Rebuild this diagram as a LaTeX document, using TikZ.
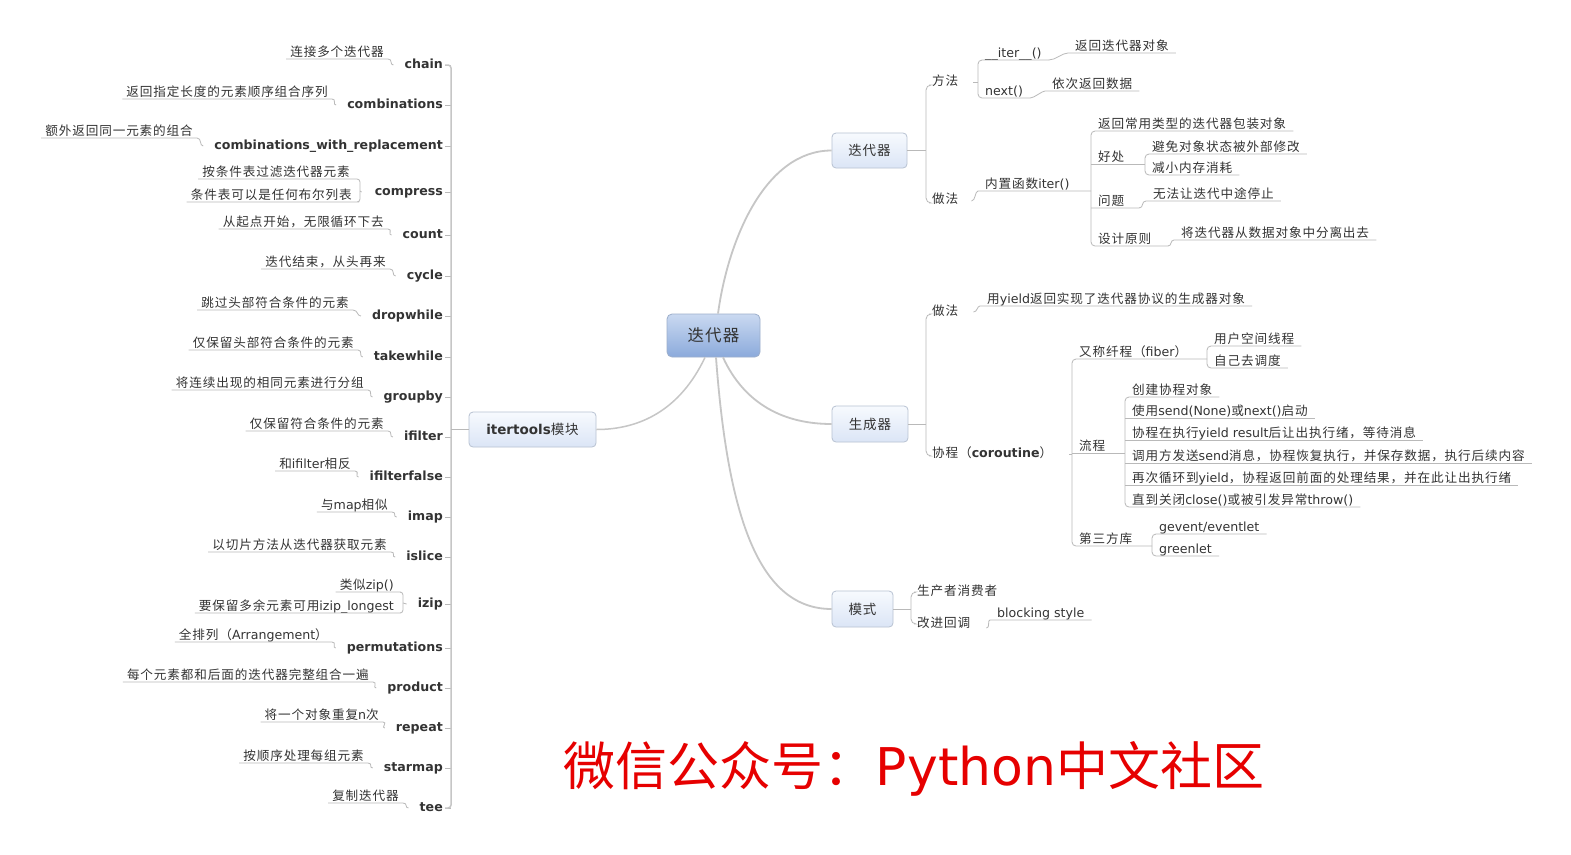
\documentclass[tikz,border=0pt]{standalone}
\usepackage{fontspec}
\setmainfont{DejaVu Sans}
\newfontfamily\cjkA[LetterSpace=7]{Noto Sans CJK SC}
\newfontfamily\cjkB{Noto Sans CJK SC}
\def\cjkcur{\cjkA}
\def\latincur{\rmfamily}
\chardef\CJKcls=100
\count255="3000
\loop\ifnum\count255<"A000 \XeTeXcharclass\count255=\CJKcls \advance\count255 by 1 \repeat
\count255="FF00
\loop\ifnum\count255<"FFF0 \XeTeXcharclass\count255=\CJKcls \advance\count255 by 1 \repeat
\XeTeXinterchartoks 0 \CJKcls = {\cjkcur}
\XeTeXinterchartoks 4095 \CJKcls = {\cjkcur}
\XeTeXinterchartoks \CJKcls 0 = {\latincur}
\XeTeXinterchartoks \CJKcls 4095 = {\latincur}
\XeTeXinterchartokenstate=1
\definecolor{txt}{HTML}{333333}
\definecolor{lnc}{HTML}{B9B9B9}
\definecolor{mainc}{HTML}{C6C6C6}
\definecolor{bxd}{HTML}{B8C2D2}
\definecolor{bxt}{HTML}{F7FAFE}
\definecolor{bxb}{HTML}{DBE5F6}
\definecolor{ctd}{HTML}{9DAFCB}
\definecolor{ctt}{HTML}{CAD9F1}
\definecolor{ctb}{HTML}{8BAADB}
\definecolor{wmc}{HTML}{E60000}
\tikzset{
  tx/.style={text=txt, font=\fontsize{12.6}{14}\selectfont, inner xsep=4pt, inner ysep=0pt, text height=9.5pt, text depth=2.4pt},
  rt/.style={tx, inner xsep=7pt, anchor=south west},
  lt/.style={tx, anchor=south east},
  hd/.style={tx, anchor=west, inner xsep=3pt},
  lb/.style={text=txt, font=\fontsize{12.6}{14}\selectfont\bfseries, inner xsep=2pt, inner ysep=0pt, text height=9pt, text depth=2.5pt, anchor=east},
  ln/.style={draw=lnc, line width=0.8pt},
  mainln/.style={draw=mainc, line width=1.8pt},
  subbox/.style={rounded corners=4pt, draw=bxd, line width=0.8pt, top color=bxt, bottom color=bxb, inner sep=0pt, text=txt, font=\fontsize{13.5}{15}\selectfont},
  centbox/.style={rounded corners=5pt, draw=ctd, line width=0.8pt, top color=ctt, bottom color=ctb, inner sep=0pt, text=txt, font=\fontsize{16.5}{18}\selectfont, minimum width=93pt, minimum height=43pt},
}
\begin{document}
\begin{tikzpicture}[x=1pt, y=-1pt]
\fill[white] (0,0) rectangle (1571,854);
\useasboundingbox (0,0) rectangle (1571,854);

% central and main boxes
\node[centbox] (c0) at (713.5,335.5) {迭代器};
\node[subbox, minimum width=75pt, minimum height=35pt] (b1) at (869.5,150.5) {迭代器};
\node[subbox, minimum width=76pt, minimum height=36pt] (b2) at (870,424) {生成器};
\node[subbox, minimum width=61pt, minimum height=36pt] (b3) at (862.5,609) {模式};
\node[subbox, minimum width=127pt, minimum height=35pt] (it) at (532.5,429.5) {{\bfseries itertools}模块};

\draw[mainln] ([xshift=4.5pt]c0.north) .. controls (728,240) and (765,150.5) .. (b1.west);
\draw[mainln] ([xshift=9.5pt]c0.south) .. controls (745,405) and (785,424) .. (b2.west);
\draw[mainln] ([xshift=2.5pt]c0.south) .. controls (728,520) and (760,609) .. (b3.west);
\draw[mainln, line width=1.5pt] ([xshift=-8.5pt]c0.south) .. controls (680,410) and (640,429.5) .. (it.east);

% ---------------- left column ----------------
\coordinate (sp) at (451,0);
\foreach \n/\ly/\uy/\ur/\lab/\des in {
  1/65/59/388/chain/连接多个迭代器,
  2/105/99/332/combinations/返回指定长度的元素顺序组合序列,
  3/146/138/197/combinations\_with\_replacement/额外返回同一元素的组合,
  5/235/229/388/count/从起点开始，无限循环下去,
  6/276/269/390/cycle/迭代结束，从头再来,
  7/316/310/353/dropwhile/跳过头部符合条件的元素,
  8/357/350/358/takewhile/仅保留头部符合条件的元素,
  9/397/390/368/groupby/将连续出现的相同元素进行分组,
  10/437/431/388/ifilter/仅保留符合条件的元素,
  11/477/471/355/ifilterfalse/和ifilter相反,
  12/517/512/392/imap/与map相似,
  13/557/552/391/islice/以切片方法从迭代器获取元素,
  15/648/642/332/permutations/全排列（Arrangement）,
  16/688/682/373/product/每个元素都和后面的迭代器完整组合一遍,
  17/728/722/383/repeat/将一个对象重复n次,
  18/768/763/368/starmap/按顺序处理每组元素,
  19/808/803/403/tee/复制迭代器}{
  \node[lb] (l\n) at (445,\ly) {\lab};
  \node[lt] (d\n) at (\ur,\uy) {\des};
  \draw[ln] (d\n.south west) -- (d\n.south east) .. controls +(5,0) and +(-4,0) .. ([xshift=-9pt]l\n.west);
  \draw[ln] (l\n.east) -- (l\n.east -| sp);
}
% compress
\node[lb] (l4) at (445,192) {compress};
\node[lt] (d4a) at (354,179) {按条件表过滤迭代器元素};
\node[lt] (d4b) at (356,202) {条件表可以是任何布尔列表};
\draw[ln, rounded corners=3pt] (d4a.south west) -- (d4a.south east) -- (360,179) -- (360,202) -- (d4b.south east) -- (d4b.south west);
\draw[ln] (360,191) -- ([xshift=-11pt]l4.west);
\draw[ln] (l4.east) -- (l4.east -| sp);
% izip
\node[lb] (l14) at (445,604) {izip};
\node[lt] (d14a) at (398,592) {类似zip()};
\node[lt] (d14b) at (398,613) {要保留多余元素可用izip\_longest};
\draw[ln, rounded corners=3pt] (d14a.south west) -- (d14a.south east) -- (403,592) -- (403,613) -- (d14b.south east) -- (d14b.south west);
\draw[ln] (403,603) -- ([xshift=-9pt]l14.west);
\draw[ln] (l14.east) -- (l14.east -| sp);
% spine
\draw[draw=mainc, line width=1.5pt, rounded corners=3pt] (l1.east) -- (451,65) -- (451,808) -- (l19.east);
\draw[ln] (it.west) -- (it.west -| sp);

% ---------------- branch 1: 迭代器 ----------------
\node[hd] (b1m) at (929,82) {方法};
\node[hd] (b1z) at (929,200) {做法};
\draw[ln, rounded corners=5pt] ([yshift=-3pt]b1m.west) -| (926,150.5) |- ([yshift=-3pt]b1z.west);
\draw[ln] (b1.east) -- (926,150.5);
\node[rt] (b1i) at (978,60) {\_\_iter\_\_()};
\node[rt] (b1n) at (978,98) {next()};
\draw[ln, rounded corners=4pt] (b1i.south east) -- (b1i.south west) -- (b1n.south west) -- (b1n.south east);
\draw[ln] ([xshift=12pt]b1m.east) -- (b1m.east -| b1i.south west);
\node[rt] (b1i1) at (1068,53) {返回迭代器对象};
\node[rt] (b1n1) at (1045,91) {依次返回数据};
\draw[ln] (b1i.south east) .. controls +(7,0) and +(-6,0) .. (b1i1.south west) -- (b1i1.south east);
\draw[ln] (b1n.south east) .. controls +(4,0) and +(-3,0) .. (b1n1.south west) -- (b1n1.south east);
\node[rt] (b1zi) at (978,191) {内置函数iter()};
\draw[ln] ([xshift=10pt,yshift=-1pt]b1z.east) .. controls +(4,0) and +(-3,0) .. (b1zi.south west) -- (1091,191);
\node[rt] (c1) at (1091,131) {返回常用类型的迭代器包装对象};
\node[rt] (c2) at (1091,164) {好处};
\node[rt] (c3) at (1091,208) {问题};
\node[rt] (c4) at (1091,246) {设计原则};
\node[rt] (c21) at (1145,154) {避免对象状态被外部修改};
\node[rt] (c22) at (1145,175) {减小内存消耗};
\node[rt] (c31) at (1146,201) {无法让迭代中途停止};
\node[rt] (c41) at (1174,240) {将迭代器从数据对象中分离出去};
\draw[ln, rounded corners=4pt] (c1.south east) -- (c1.south west) -- (c4.south west) -- (1168,246);
\draw[ln] (1168,246) .. controls (1172,246) and (1170,240) .. (c41.south west) -- (c41.south east);
\draw[ln] (c2.south west) -- (1145,164);
\draw[ln, rounded corners=4pt] (c21.south east) -- (c21.south west) -- (c22.south west) -- (c22.south east);
\draw[ln] (c3.south west) -- (1139,208) .. controls (1144,208) and (1141,201) .. (c31.south west) -- (c31.south east);

% ---------------- branch 2: 生成器 ----------------
\node[hd] (b2z) at (929,312) {做法};
\node[hd] (b2x) at (929,454) {协程（{\rmfamily\bfseries coroutine}）};
\draw[ln, rounded corners=5pt] ([yshift=-2pt]b2z.west) -| (926,424) |- ([yshift=-2pt]b2x.west);
\draw[ln] (b2.east) -- (926,424);
\node[rt] (b2z1) at (980,306) {用yield返回实现了迭代器协议的生成器对象};
\draw[ln] ([xshift=12pt]b2z.east) .. controls +(4,0) and +(-3,0) .. (b2z1.south west) -- (b2z1.south east);
\node[rt] (d1) at (1072,359) {又称纤程（fiber）};
\node[rt] (d2) at (1072,453) {流程};
\node[rt] (d3) at (1072,546) {第三方库};
\draw[ln] ([xshift=14pt]b2x.east) -- (b2x.east -| d2.south west);
\draw[ln, rounded corners=4pt] (1207,359) -- (d1.south west) -- (d3.south west) -- (1152,546);
\draw[ln] (d2.south west) -- (1125,453);
\node[rt] (d11) at (1207,346) {用户空间线程};
\node[rt] (d12) at (1207,368) {自己去调度};
\draw[ln, rounded corners=4pt] (d11.south east) -- (d11.south west) -- (d12.south west) -- (d12.south east);
\node[rt] (e1) at (1125,397) {创建协程对象};
\node[rt] (e2) at (1125,418) {使用send(None)或next()启动};
\node[rt] (e3) at (1125,440) {协程在执行yield result后让出执行绪，等待消息};
\node[rt] (e4) at (1125,463) {调用方发送send消息，协程恢复执行，并保存数据，执行后续内容};
\node[rt] (e5) at (1125,485) {再次循环到yield，协程返回前面的处理结果，并在此让出执行绪};
\node[rt] (e6) at (1125,507) {直到关闭close()或被引发异常throw()};
\draw[ln, rounded corners=4pt] (e1.south east) -- (e1.south west) -- (e6.south west) -- (e6.south east);
\foreach \k in {2,3,4,5}{\draw[ln] (e\k.south west) -- (e\k.south east);}
\node[rt] (f1) at (1152,534) {gevent/eventlet};
\node[rt] (f2) at (1152,556) {greenlet};
\draw[ln, rounded corners=4pt] (f1.south east) -- (f1.south west) -- (f2.south west) -- (f2.south east);

% ---------------- branch 3: 模式 ----------------
\node[hd] (b3p) at (914,592) {生产者消费者};
\node[hd] (b3g) at (914,624) {改进回调};
\draw[ln, rounded corners=5pt] (b3p.west) -| (911,609) |- (b3g.west);
\draw[ln] (b3.east) -- (911,609);
\node[rt] (b3g1) at (990,620) {blocking style};
\draw[ln] ([xshift=13pt,yshift=-4pt]b3g.east) .. controls +(4,0) and +(-3,0) .. (b3g1.south west) -- (b3g1.south east);

% watermark
\node[text=wmc, font=\fontsize{52}{60}\selectfont\def\cjkcur{\cjkB}, inner sep=0pt] (wm) at (914,769) {微信公众号：Python中文社区};
\end{tikzpicture}
\end{document}
